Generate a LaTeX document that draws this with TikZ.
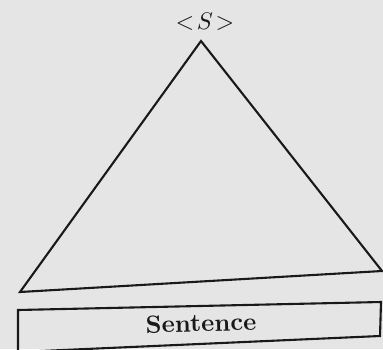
\documentclass[tikz,border=0pt]{standalone}
\begin{document}
\begin{tikzpicture}[x=1pt,y=-1pt,
  outline/.style={draw=black!90, line width=2.1pt, line join=miter},
  lbl/.style={inner sep=0pt, text=black!90}]
\fill[black!10] (0,0) rectangle (383,349);
\useasboundingbox (0,0) rectangle (383,349);
\coordinate (apex) at (201,41);
\coordinate (bl) at (20,292);
\coordinate (br) at (382,271);
\draw[outline] (apex) -- (bl) -- (br) -- cycle;
\node[lbl, scale=2.4] (top) at (205,22) {$<\!S\!>$};
\coordinate (b1) at (18,310);
\coordinate (b2) at (381,302);
\coordinate (b3) at (380,336);
\coordinate (b4) at (18,352);
\draw[outline] (b4) -- (b1) -- (b2) -- (b3) -- (b4);
\node[lbl, rotate=1.5, scale=2.5] (sent) at (201,323) {\bfseries Sentence};
\end{tikzpicture}
\end{document}
